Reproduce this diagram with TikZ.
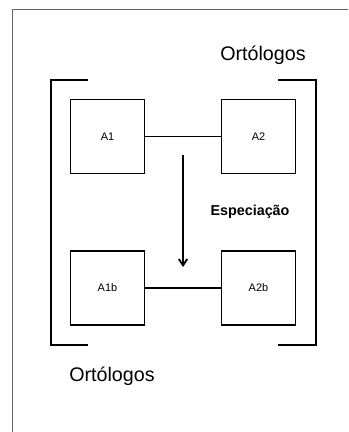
\documentclass[tikz,border=0pt]{standalone}
\usepackage{fontspec}
\setmainfont{Liberation Sans}
\usepackage{tikz}
\usetikzlibrary{arrows,arrows.meta}

\tikzset{
  gene/.style={draw, line width=1.3pt, minimum size=1.85cm, inner sep=0pt, font=\fontsize{7.8}{9}\selectfont},
  grupo/.style={font=\fontsize{14}{16}\selectfont},
  evento/.style={font=\bfseries\fontsize{10.2}{12}\selectfont},
  colchete/.style={line width=1.4pt}
}

\begin{document}
\begin{tikzpicture}[x=0.025cm,y=-0.025cm]
  \useasboundingbox (0,0) rectangle (348,432);
  \draw[gray!80!black, line width=0.7pt] (12,432) -- (12,9) -- (348,9);
      \draw (107.5,136.5) node[gene] (A1) {A1};
  \draw (258.5,136.5) node[gene] (A2) {A2};
      \draw (107.5,288) node[gene] (A1b) {A1b};
  \draw (258.5,288) node[gene] (A2b) {A2b};
      \draw (263,55) node[grupo] (orto1) {Ortólogos};
      \draw (112,376) node[grupo] (orto2) {Ortólogos};
      \draw (250,212) node[evento] (espec) {Especiação};
  \draw[colchete] (88,80) -- (51,80) -- (51,345) -- (88,345);
  \draw[colchete] (278,80) -- (316,80) -- (316,345) -- (278,345);
      \coordinate (inicio) at (183,155);
      \coordinate (fim) at (183,267);
      \path[-, line width=1.3pt] (A1) edge (A2);
      \path[-, line width=1.3pt] (A1b) edge (A2b);
      \path[-{Straight Barb[length=4.5pt,width=6pt]}, line width=1.3pt] (inicio) edge (fim);
\end{tikzpicture}
\end{document}
